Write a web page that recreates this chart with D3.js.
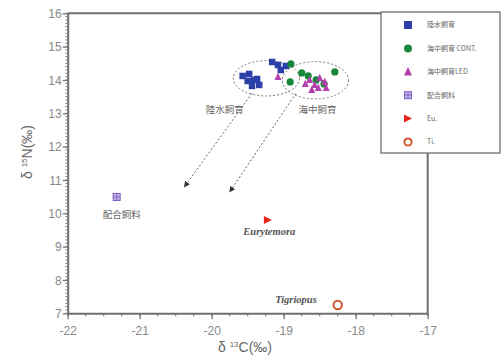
<!DOCTYPE html>
<html>
<head>
<meta charset="utf-8">
<script src="https://cdn.jsdelivr.net/npm/d3@7"></script>
<style>
  body { margin: 0; background: #fff; }
  svg { display: block; }
</style>
</head>
<body>
<div id="chart"></div>
<script>
// data (δ13C, δ15N)
const freshX = [-19.57, -19.48, -19.50, -19.41, -19.44, -19.34, -19.37, -19.16, -19.08, -19.04, -18.97];
const freshY = [14.12, 14.18, 13.97, 14.00, 13.82, 13.85, 14.03, 14.54, 14.45, 14.30, 14.42];
const seaContX = [-18.90, -18.91, -18.75, -18.66, -18.55, -18.44, -18.29];
const seaContY = [14.48, 13.94, 14.21, 14.12, 14.00, 13.88, 14.24];
const seaLedX = [-19.08, -18.64, -18.57, -18.50, -18.43, -18.61, -18.52, -18.41, -18.70];
const seaLedY = [14.09, 14.00, 13.85, 14.06, 13.94, 13.70, 13.76, 13.76, 13.88];
const feedX = [-21.32], feedY = [10.49];
const euryX = [-19.22], euryY = [9.80];
const tigX = [-18.25], tigY = [7.25];

const xTicks = [-22, -21, -20, -19, -18, -17];
const yTicks = [7, 8, 9, 10, 11, 12, 13, 14, 15, 16];
const legendLabels = ["陸水飼育", "海中飼育 CONT.", "海中飼育LED", "配合飼料", "Eu.", "Ti."];

const width = 502;
const height = 362;
const margin = { top: 13.3, right: 74.3, bottom: 48.7, left: 67.7 };

const svg = d3.select("#chart").append("svg")
  .attr("width", width)
  .attr("height", height);

const x = d3.scaleLinear().domain([-22, -17]).range([margin.left, width - margin.right]);
const y = d3.scaleLinear().domain([7, 16]).range([height - margin.bottom, margin.top]);

const axisColor = "#6f6f6f";
const textColor = "#888";
const tickFont = "'Liberation Sans Narrow', 'Liberation Sans', sans-serif";
const jpFont = "'Noto Sans CJK JP', sans-serif";

// minor ticks
const xMinor = d3.range(-22, -16.99, 0.25);
const yMinor = d3.range(7, 16.001, 0.1);
svg.append("g").selectAll("line").data(xMinor).join("line")
  .attr("x1", d => x(d)).attr("x2", d => x(d))
  .attr("y1", y(7)).attr("y2", y(7) + 3)
  .attr("stroke", axisColor).attr("stroke-width", 1);
svg.append("g").selectAll("line").data(yMinor).join("line")
  .attr("x1", x(-22) - 2.5).attr("x2", x(-22))
  .attr("y1", d => y(d)).attr("y2", d => y(d))
  .attr("stroke", axisColor).attr("stroke-width", 0.8);

// axes
const xAxis = svg.append("g")
  .attr("transform", `translate(0,${y(7)})`)
  .call(d3.axisBottom(x).tickValues(xTicks).tickFormat(d => String(d)).tickSize(6).tickSizeOuter(0));
const yAxis = svg.append("g")
  .attr("transform", `translate(${x(-22)},0)`)
  .call(d3.axisLeft(y).tickValues(yTicks).tickFormat(d => String(d)).tickSize(5).tickSizeOuter(0));

[xAxis, yAxis].forEach(g => {
  g.select(".domain").attr("stroke", axisColor).attr("stroke-width", 2);
  g.selectAll(".tick line").attr("stroke", axisColor).attr("stroke-width", 1.2);
  g.selectAll(".tick text")
    .attr("fill", textColor)
    .attr("font-family", tickFont)
    .attr("font-size", 12);
});
xAxis.selectAll(".tick text").attr("dy", "1.1em");
yAxis.selectAll(".tick text").attr("x", -6).attr("dy", "0.35em");

// frame top / right
svg.append("path")
  .attr("d", `M${x(-22)},${y(16)}H${x(-17)}V${y(7)}`)
  .attr("fill", "none").attr("stroke", axisColor).attr("stroke-width", 2);

// axis titles
const xt = svg.append("text")
  .attr("x", 245).attr("y", 352)
  .attr("text-anchor", "middle")
  .attr("fill", "#666")
  .attr("font-family", tickFont)
  .attr("font-size", 14);
xt.append("tspan").text("δ ");
xt.append("tspan").attr("font-size", 8).attr("dy", -5).text("13");
xt.append("tspan").attr("dy", 5).text("C(‰)");

const yt = svg.append("text")
  .attr("transform", "translate(32,152) rotate(-90)")
  .attr("text-anchor", "middle")
  .attr("fill", "#666")
  .attr("font-family", tickFont)
  .attr("font-size", 14);
yt.append("tspan").text("δ ");
yt.append("tspan").attr("font-size", 8).attr("dy", -5).text("15");
yt.append("tspan").attr("dy", 5).text("N(‰)");

// dashed ellipses around groups
const ellipses = [
  { cx: -19.24, cy: 14.05, rx: 0.46, ry: 0.53 },
  { cx: -18.56, cy: 13.99, rx: 0.46, ry: 0.56 }
];
svg.append("g").selectAll("ellipse").data(ellipses).join("ellipse")
  .attr("cx", d => x(d.cx)).attr("cy", d => y(d.cy))
  .attr("rx", d => x(d.cx + d.rx) - x(d.cx))
  .attr("ry", d => y(d.cy - d.ry) - y(d.cy))
  .attr("fill", "none").attr("stroke", "#777")
  .attr("stroke-width", 1).attr("stroke-dasharray", "2,2");

// dashed arrows
svg.append("defs").append("marker")
  .attr("id", "arr").attr("viewBox", "0 0 10 10")
  .attr("refX", 9).attr("refY", 5)
  .attr("markerWidth", 6).attr("markerHeight", 6)
  .attr("orient", "auto")
  .append("path").attr("d", "M0,0L10,5L0,10z").attr("fill", "#333");
const arrows = [
  { x1: -19.44, y1: 13.6, x2: -20.38, y2: 10.79 },
  { x1: -18.83, y1: 13.6, x2: -19.75, y2: 10.64 }
];
svg.append("g").selectAll("line").data(arrows).join("line")
  .attr("x1", d => x(d.x1)).attr("y1", d => y(d.y1))
  .attr("x2", d => x(d.x2)).attr("y2", d => y(d.y2))
  .attr("stroke", "#666").attr("stroke-width", 1)
  .attr("stroke-dasharray", "2,2")
  .attr("marker-end", "url(#arr)");

// symbols
const blue = "#2a40a8", green = "#17883a", magenta = "#b43fb0";
const red = "#e8231c", orange = "#d0522e";

function drawSquares(g, xs, ys, s, fill) {
  g.selectAll(null).data(xs).join("rect")
    .attr("x", (d, i) => x(d) - s / 2).attr("y", (d, i) => y(ys[i]) - s / 2)
    .attr("width", s).attr("height", s).attr("fill", fill);
}
function drawCircles(g, xs, ys, r, fill) {
  g.selectAll(null).data(xs).join("circle")
    .attr("cx", d => x(d)).attr("cy", (d, i) => y(ys[i])).attr("r", r).attr("fill", fill);
}
function drawTriangles(g, xs, ys, s, fill) {
  g.selectAll(null).data(xs).join("path")
    .attr("d", (d, i) => {
      const cx = x(d), cy = y(ys[i]);
      return `M${cx},${cy - s * 0.6}L${cx + s / 2},${cy + s * 0.45}L${cx - s / 2},${cy + s * 0.45}Z`;
    })
    .attr("fill", fill);
}
function feedMark(g, cx, cy, s) {
  g.append("rect").attr("x", cx - s / 2).attr("y", cy - s / 2)
    .attr("width", s).attr("height", s)
    .attr("fill", "#c5b4e6").attr("stroke", "#7a5cc4").attr("stroke-width", 1);
  g.append("path")
    .attr("d", `M${cx - s / 2},${cy}H${cx + s / 2}M${cx},${cy - s / 2}V${cy + s / 2}`)
    .attr("stroke", "#7a5cc4").attr("stroke-width", 0.8);
}
function euryMark(g, cx, cy, s) {
  g.append("path")
    .attr("d", `M${cx - s / 2},${cy - s / 2}L${cx + s / 2},${cy}L${cx - s / 2},${cy + s / 2}Z`)
    .attr("fill", red);
}
function tigMark(g, cx, cy, r) {
  g.append("circle").attr("cx", cx).attr("cy", cy).attr("r", r)
    .attr("fill", "#fff").attr("stroke", orange).attr("stroke-width", 2);
}

const pts = svg.append("g");
drawSquares(pts.append("g"), freshX, freshY, 6.5, blue);
drawCircles(pts.append("g"), seaContX, seaContY, 3.6, green);
drawTriangles(pts.append("g"), seaLedX, seaLedY, 7, magenta);
feedX.forEach((d, i) => feedMark(pts, x(d), y(feedY[i]), 7));
euryX.forEach((d, i) => euryMark(pts, x(d), y(euryY[i]), 8));
tigX.forEach((d, i) => tigMark(pts, x(d), y(tigY[i]), 4.2));

// annotation text
const ann = svg.append("g").attr("fill", "#666");
ann.append("text").attr("x", x(-19.82)).attr("y", y(13.01))
  .attr("text-anchor", "middle").attr("font-family", jpFont).attr("font-size", 9.5).text("陸水飼育");
ann.append("text").attr("x", x(-18.53)).attr("y", y(13.01))
  .attr("text-anchor", "middle").attr("font-family", jpFont).attr("font-size", 9.5).text("海中飼育");
ann.append("text").attr("x", x(-21.25)).attr("y", y(9.86))
  .attr("text-anchor", "middle").attr("font-family", jpFont).attr("font-size", 9.5).text("配合飼料");
ann.append("text").attr("x", x(-19.2)).attr("y", y(9.36))
  .attr("text-anchor", "middle").attr("font-family", "'Liberation Serif', serif")
  .attr("font-style", "italic").attr("font-weight", "bold").attr("font-size", 10.5)
  .attr("fill", "#555").text("Eurytemora");
ann.append("text").attr("x", x(-18.83)).attr("y", y(7.3))
  .attr("text-anchor", "middle").attr("font-family", "'Liberation Serif', serif")
  .attr("font-style", "italic").attr("font-weight", "bold").attr("font-size", 10.5)
  .attr("fill", "#555").text("Tigriopus");

// legend
const lg = svg.append("g");
lg.append("rect").attr("x", 381).attr("y", 12).attr("width", 119).attr("height", 141)
  .attr("fill", "#fff").attr("stroke", axisColor).attr("stroke-width", 1.3);
const rowY = d3.scalePoint().domain(d3.range(legendLabels.length)).range([25, 142]);
const symX = 408;
lg.append("rect").attr("x", symX - 4).attr("y", rowY(0) - 4).attr("width", 8).attr("height", 8).attr("fill", blue);
lg.append("circle").attr("cx", symX).attr("cy", rowY(1)).attr("r", 4).attr("fill", green);
drawTriangles(lg.append("g"), [x.invert(symX)], [y.invert(rowY(2))], 8, magenta);
feedMark(lg, symX, rowY(3), 7);
euryMark(lg, symX, rowY(4), 8);
tigMark(lg, symX, rowY(5), 3.6);
lg.selectAll("text.lab").data(legendLabels).join("text")
  .attr("class", "lab")
  .attr("x", 427).attr("y", (d, i) => rowY(i)).attr("dy", "0.35em")
  .attr("fill", "#666").attr("font-family", jpFont).attr("font-size", 7)
  .text(d => d);
</script>
</body>
</html>
